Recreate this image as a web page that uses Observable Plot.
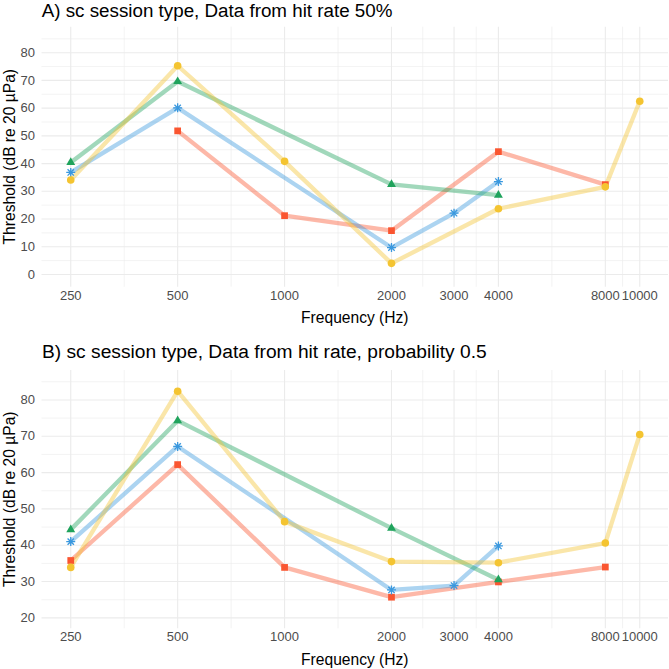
<!DOCTYPE html>
<html>
<head>
<meta charset="utf-8">
<script src="https://cdn.jsdelivr.net/npm/d3@7"></script>
<script src="https://cdn.jsdelivr.net/npm/@observablehq/plot@0.6"></script>
<style>
  body { margin: 0; background: #fff; }
  #wrap { position: relative; width: 669px; height: 669px; overflow: hidden; font-family: "Liberation Sans", Arial, sans-serif; }
  #wrap > svg { position: absolute; left: 0; }
</style>
</head>
<body>
<div id="wrap"></div>
<script>
// ---- data ----
const frequencies = [250, 500, 1000, 2000, 3000, 4000, 8000, 10000];
const seriesNames = ["Series 1", "Series 2", "Series 3", "Series 4"];

// Panel A: Data from hit rate 50%
const aSeries1 = [null, 51.8, 21.2, 15.8, null, 44.3, 32.4, null]; // red squares
const aSeries2 = [36.8, 60.1, null, 9.7, 22.1, 33.5, null, null];  // blue asterisks
const aSeries3 = [40.4, 69.6, null, 32.5, null, 28.6, null, null]; // green triangles
const aSeries4 = [34.1, 75.3, 40.8, 4.0, null, 23.7, 31.6, 62.5];  // yellow circles

// Panel B: Data from hit rate, probability 0.5
const bSeries1 = [35.8, 62.2, 33.9, 25.7, null, 29.9, 34.0, null];
const bSeries2 = [41.0, 67.2, null, 27.7, 28.9, 39.8, null, null];
const bSeries3 = [44.3, 74.3, null, 44.7, null, 30.5, null, null];
const bSeries4 = [33.9, 82.4, 46.5, 35.5, null, 35.2, 40.6, 70.5];

const xTicks = [250, 500, 1000, 2000, 3000, 4000, 8000, 10000];
const xMinorTicks = [353.6, 707.1, 1414.2, 2449.5, 3464.1, 5656.9, 8944.3];
const aYTicks = [0, 10, 20, 30, 40, 50, 60, 70, 80];
const aYMinor = [5, 15, 25, 35, 45, 55, 65, 75, 85];
const bYTicks = [20, 30, 40, 50, 60, 70, 80];
const bYMinor = [25, 35, 45, 55, 65, 75, 85];

const titleA = "A) sc session type, Data from hit rate 50%";
const titleB = "B) sc session type, Data from hit rate, probability 0.5";
const xTitle = "Frequency (Hz)";
const yTitle = "Threshold (dB re 20 µPa)";

// ---- styling ----
const colors = ["#FA5530", "#3A98DE", "#1FA35C", "#F4C431"];
const FONT = "'Liberation Sans', Arial, sans-serif";
const W = 669;
const TICK_FS = 13;

function rowsFrom(list) {
  const rows = [];
  list.forEach((vals, i) => {
    vals.forEach((v, j) => {
      if (v != null) rows.push({series: seriesNames[i], freq: frequencies[j], value: v});
    });
  });
  return rows;
}

function panel(list, yDomain, yTicks, yMinor, height, marginTop, marginBottom) {
  const rows = rowsFrom(list);
  const of = (k) => rows.filter(d => d.series === seriesNames[k]);
  const grid = {stroke: "#ebebeb"};
  return Plot.plot({
    width: W, height, marginTop, marginBottom, marginLeft: 41.5, marginRight: 1,
    style: {fontFamily: FONT, fontSize: TICK_FS + "px", color: "#4d4d4d", background: "transparent", overflow: "visible"},
    x: {type: "log", domain: [207.5, 12049], axis: null},
    y: {domain: yDomain},
    color: {domain: seriesNames, range: colors},
    marks: [
      Plot.ruleX(xMinorTicks, {...grid, strokeWidth: 0.6}),
      Plot.ruleY(yMinor, {...grid, strokeWidth: 0.6}),
      Plot.ruleX(xTicks, {...grid, strokeWidth: 1.1}),
      Plot.ruleY(yTicks, {...grid, strokeWidth: 1.1}),
      Plot.line(rows, {x: "freq", y: "value", z: "series", stroke: "series", strokeWidth: 4.3, strokeOpacity: 0.42, curve: "linear"}),
      Plot.dot(of(0), {x: "freq", y: "value", symbol: "square", fill: colors[0], r: 3.8}),
      Plot.dot(of(1), {x: "freq", y: "value", symbol: "plus", stroke: colors[1], fill: "none", strokeWidth: 1.3, r: 3.0}),
      Plot.dot(of(1), {x: "freq", y: "value", symbol: "times", stroke: colors[1], fill: "none", strokeWidth: 1.3, r: 3.0}),
      Plot.dot(of(2), {x: "freq", y: "value", symbol: "triangle", fill: colors[2], r: 3.3}),
      Plot.dot(of(3), {x: "freq", y: "value", symbol: "circle", fill: colors[3], r: 3.8}),
      Plot.text(xTicks, {x: d => d, text: d => String(d), frameAnchor: "bottom", dy: 12.5, fontSize: TICK_FS, fill: "#4d4d4d"}),
      Plot.axisY(yTicks, {tickSize: 0, tickPadding: 7, label: null, fontSize: TICK_FS})
    ]
  });
}

const wrap = document.getElementById("wrap");

const pA = panel([aSeries1, aSeries2, aSeries3, aSeries4], [-4.6, 89.2], aYTicks, aYMinor, 335, 26.7, 48.3);
pA.style.top = "0px";
wrap.appendChild(pA);

const pB = panel([bSeries1, bSeries2, bSeries3, bSeries4], [17.0, 88.1], bYTicks, bYMinor, 334, 35, 40.7);
pB.style.top = "335px";
wrap.appendChild(pB);

// overlay for titles
const ov = d3.create("svg")
  .attr("width", W).attr("height", 669)
  .style("position", "absolute").style("top", "0px").style("left", "0px")
  .style("font-family", FONT);

const labels = [
  {t: titleA, x: 41.7, y: 17.0, size: 18.8, anchor: "start", rot: 0},
  {t: titleB, x: 42.0, y: 357.7, size: 19.2, anchor: "start", rot: 0},
  {t: xTitle, x: 354.8, y: 323.3, size: 15.6, anchor: "middle", rot: 0},
  {t: xTitle, x: 354.8, y: 665.0, size: 15.6, anchor: "middle", rot: 0},
  {t: yTitle, x: 15.0, y: 156.7, size: 15.6, anchor: "middle", rot: -90},
  {t: yTitle, x: 15.0, y: 499.2, size: 15.6, anchor: "middle", rot: -90}
];
ov.selectAll("text").data(labels).join("text")
  .attr("transform", d => `translate(${d.x},${d.y}) rotate(${d.rot})`)
  .attr("text-anchor", d => d.anchor)
  .attr("font-size", d => d.size)
  .attr("fill", "#000")
  .text(d => d.t);

wrap.appendChild(ov.node());
</script>
</body>
</html>
